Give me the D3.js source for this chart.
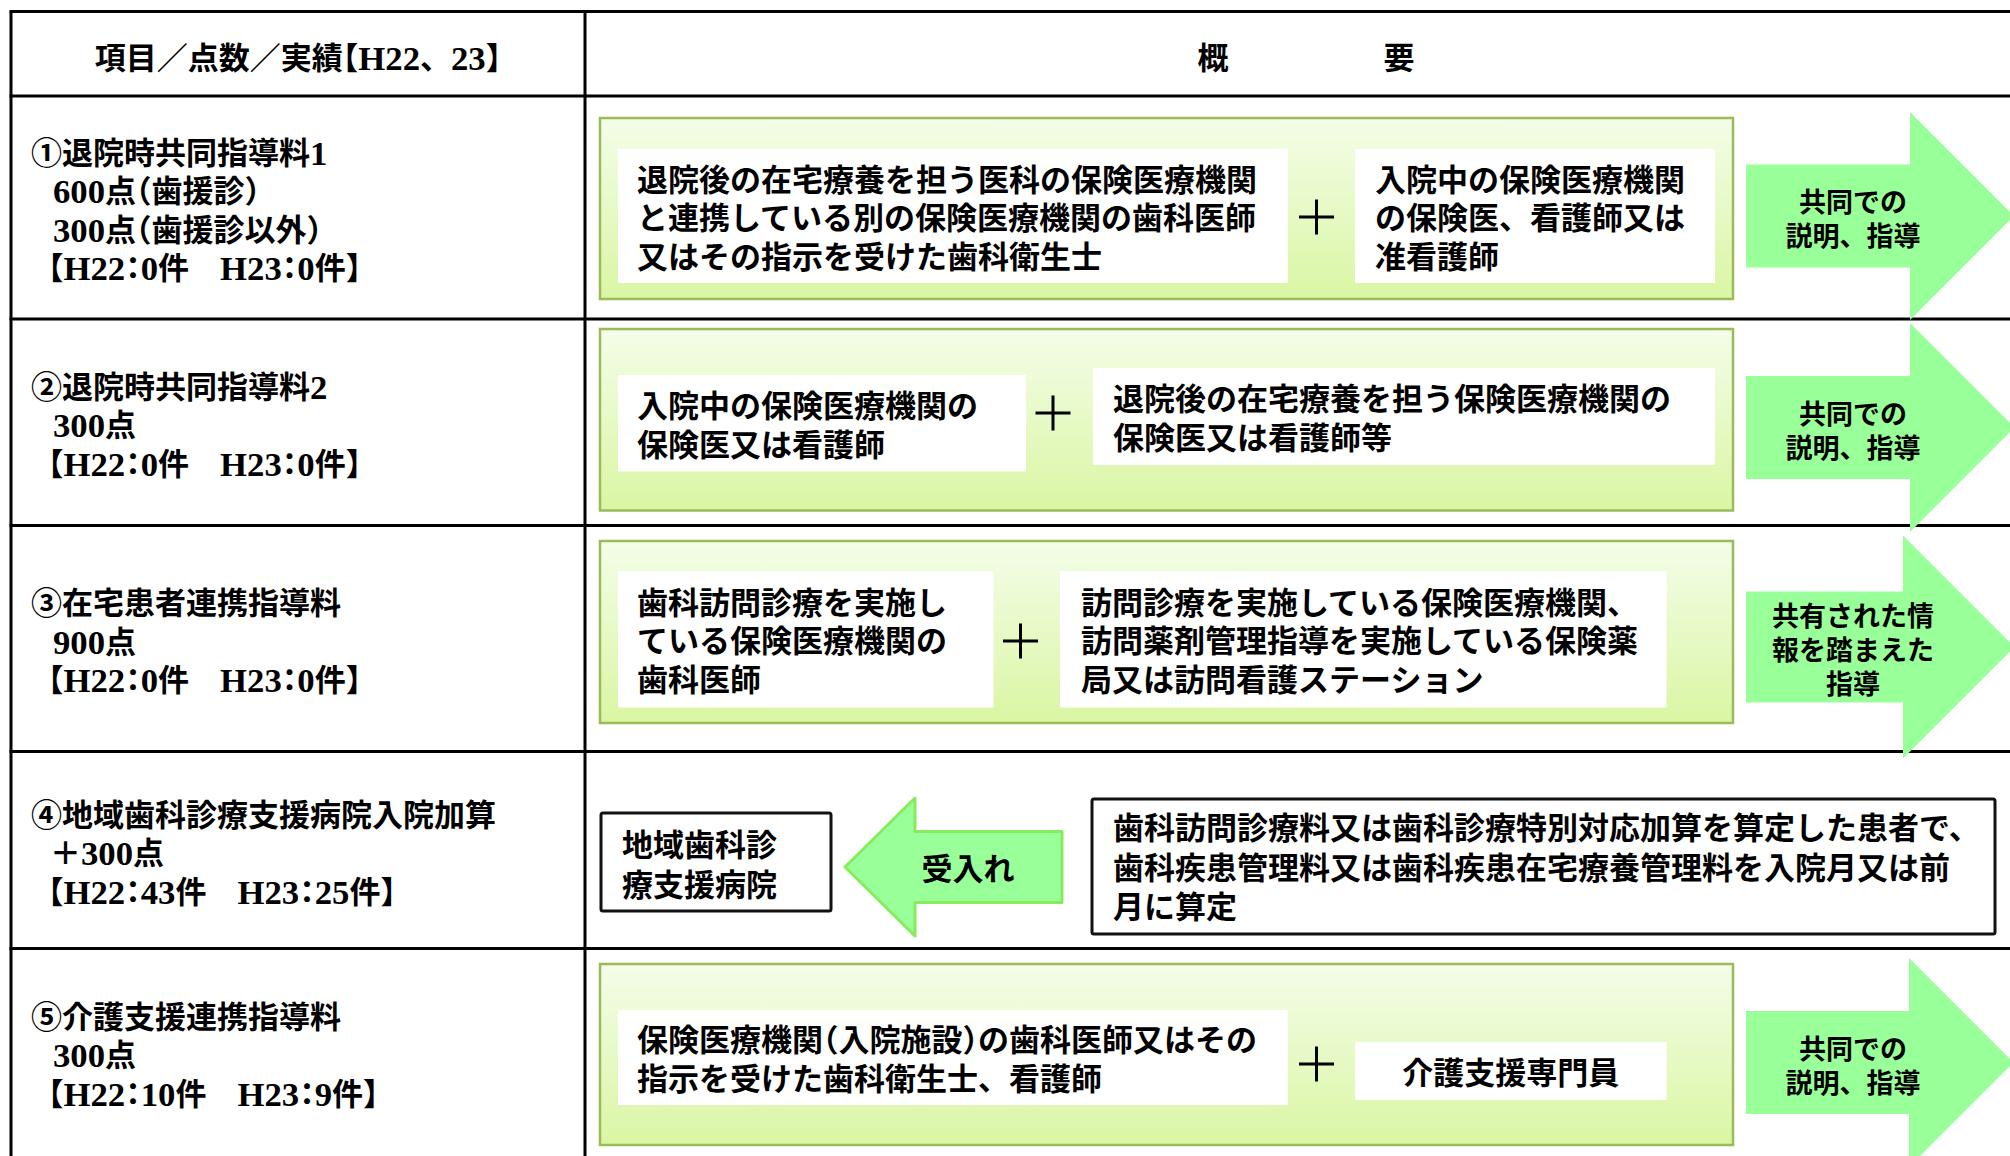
<!DOCTYPE html>
<html><head><meta charset="utf-8">
<script src="https://cdn.jsdelivr.net/npm/d3@7"></script>
<style>
html,body{margin:0;padding:0;background:#fff;}
svg text{font-family:'Liberation Serif','Noto Sans CJK JP',serif;font-weight:bold;fill:#000;}
.halt{font-feature-settings:"halt";}
</style></head>
<body><svg id="c"></svg>
<script>
// ---- content (text data) ----
const headerLabels = ["項目／点数／実績【H22、23】", "概　　　　　要"];
const itemLines = [
  ["①退院時共同指導料1", "600点（歯援診）", "300点（歯援診以外）", "【H22：0件　H23：0件】"],
  ["②退院時共同指導料2", "300点", "【H22：0件　H23：0件】"],
  ["③在宅患者連携指導料", "900点", "【H22：0件　H23：0件】"],
  ["④地域歯科診療支援病院入院加算", "＋300点", "【H22：43件　H23：25件】"],
  ["⑤介護支援連携指導料", "300点", "【H22：10件　H23：9件】"]
];
const partyA = [
  ["退院後の在宅療養を担う医科の保険医療機関", "と連携している別の保険医療機関の歯科医師", "又はその指示を受けた歯科衛生士"],
  ["入院中の保険医療機関の", "保険医又は看護師"],
  ["歯科訪問診療を実施し", "ている保険医療機関の", "歯科医師"],
  null,
  ["保険医療機関（入院施設）の歯科医師又はその", "指示を受けた歯科衛生士、看護師"]
];
const partyB = [
  ["入院中の保険医療機関", "の保険医、看護師又は", "准看護師"],
  ["退院後の在宅療養を担う保険医療機関の", "保険医又は看護師等"],
  ["訪問診療を実施している保険医療機関、", "訪問薬剤管理指導を実施している保険薬", "局又は訪問看護ステーション"],
  null,
  ["介護支援専門員"]
];
const outcomes = [
  ["共同での", "説明、指導"],
  ["共同での", "説明、指導"],
  ["共有された情", "報を踏まえた", "指導"],
  null,
  ["共同での", "説明、指導"]
];
const hospitalLabel = ["地域歯科診", "療支援病院"];
const acceptLabel = ["受入れ"];
const conditionLines = ["歯科訪問診療料又は歯科診療特別対応加算を算定した患者で、", "歯科疾患管理料又は歯科疾患在宅療養管理料を入院月又は前", "月に算定"];

// ---- layout (geometry, separate from content) ----
const W = 2010, H = 1156;
const rowEdges = [11.5, 96, 319, 525.5, 751.5, 948.5, 1156];
const tableLeft = 11, colDiv = 585;
const greenBoxes = [[600,118,1733,299],[600,329,1733,510.5],[600,541,1733,723],null,[600,964,1733,1145]];
const boxA = [[618,149,1288,283],[618,375,1026,471.5],[618,571,993.5,707.5],null,[618,1010,1288,1105]];
const boxB = [[1355,149,1715,283],[1093,368,1715,465],[1060,571,1666.5,707.5],null,[1355,1042,1666.5,1100]];
const textAx = [637,637,637,null,637];
const textBx = [1375,1113,1081,null,null]; // null => centered
const plusPos = [[1316.5,217],[1053,413],[1020.5,641],null,[1316.5,1064]];
const arrows = [ // [x0, xb, cy, bodyHalf, headHalf]
  [1746,1910,216,51.5,104],[1746,1910,427.5,51.5,104.5],[1746,1903,647,55.5,111.5],null,[1746,1909,1062.5,51.5,104.5]
];
const FS = 31, LH = 38.5;

const svg = d3.select("#c").attr("width",W).attr("height",H).attr("viewBox",`0 0 ${W} ${H}`);
const defs = svg.append("defs");
const grad = defs.append("linearGradient").attr("id","gg").attr("x1",0).attr("y1",0).attr("x2",0).attr("y2",1);
grad.append("stop").attr("offset","0%").attr("stop-color","#f4fde9");
grad.append("stop").attr("offset","100%").attr("stop-color","#daf6a3");

function addLines(g, lines, x, cy, lh, fs, anchor){
  const n = lines.length;
  lines.forEach((ln,i)=>{
    const t = g.append("text").attr("x",x).attr("y",cy + (i-(n-1)/2)*lh)
      .attr("dominant-baseline","central").attr("text-anchor",anchor||"start")
      .style("font-size",fs+"px");
    ln.split(/([（）【】：]|[A-Za-z0-9]+)/).filter(s=>s.length).forEach(seg=>{
      const ts = t.append("tspan").text(seg);
      if(/^[（）【】：]$/.test(seg)) ts.attr("class","halt");
      if(/^[A-Za-z0-9]+$/.test(seg)) ts.style("font-size",(fs*1.12)+"px");
    });
  });
}
function rect(g, b){ return g.append("rect").attr("x",b[0]).attr("y",b[1]).attr("width",b[2]-b[0]).attr("height",b[3]-b[1]); }

// table lines
const tbl = svg.append("g").attr("stroke","#000").attr("stroke-width",3);
tbl.selectAll("line.h").data(rowEdges.slice(0,6)).join("line").attr("class","h")
  .attr("x1",tableLeft-1.5).attr("x2",W).attr("y1",d=>d).attr("y2",d=>d);
tbl.append("line").attr("x1",tableLeft).attr("x2",tableLeft).attr("y1",rowEdges[0]).attr("y2",H);
tbl.append("line").attr("x1",colDiv).attr("x2",colDiv).attr("y1",rowEdges[0]).attr("y2",H);

// header
const hg = svg.append("g");
addLines(hg,[headerLabels[0]],298,58,LH,FS,"middle");
addLines(hg,[headerLabels[1]],1306,58,LH,FS,"middle");

// left column items
const lg = svg.append("g");
itemLines.forEach((lines,r)=>{
  const cy = (rowEdges[r+1]+rowEdges[r+2])/2 + 3;
  const n = lines.length;
  lines.forEach((ln,i)=>{
    let x = i===0 ? 31 : 53;
    if(ln[0]==="【") x -= 5;
    if(ln[0]==="＋") x -= 3;
    addLines(lg,[ln],x,cy+(i-(n-1)/2)*LH,LH,FS);
  });
});

// right column diagrams
const dg = svg.append("g");
[0,1,2,4].forEach(r=>{
  rect(dg,greenBoxes[r]).attr("fill","url(#gg)").attr("stroke","#9bbb59").attr("stroke-width",2.5);
  rect(dg,boxA[r]).attr("fill","#fff");
  rect(dg,boxB[r]).attr("fill","#fff");
  const ca = (boxA[r][1]+boxA[r][3])/2 + 2;
  addLines(dg,partyA[r],textAx[r],ca,LH,FS);
  const cb = (boxB[r][1]+boxB[r][3])/2 + 2;
  if(textBx[r]===null) addLines(dg,partyB[r],(boxB[r][0]+boxB[r][2])/2,cb,LH,FS,"middle");
  else addLines(dg,partyB[r],textBx[r],cb,LH,FS);
  const [px,py] = plusPos[r], s = 17.5;
  dg.append("path").attr("d",`M${px-s},${py}H${px+s}M${px},${py-s}V${py+s}`).attr("stroke","#000").attr("stroke-width",3).attr("fill","none");
  const [x0,xb,cy,bh,hh] = arrows[r];
  const p = d3.path();
  p.moveTo(x0,cy-bh); p.lineTo(xb,cy-bh); p.lineTo(xb,cy-hh); p.lineTo(xb+hh,cy);
  p.lineTo(xb,cy+hh); p.lineTo(xb,cy+bh); p.lineTo(x0,cy+bh); p.closePath();
  dg.append("path").attr("d",p.toString()).attr("fill","#99ff99");
  addLines(dg,outcomes[r],1853,cy+4,34,27,"middle");
});

// row 4 diagram
const hb = [601,813,831,911];
rect(dg,hb).attr("fill","#fff").attr("stroke","#111").attr("stroke-width",3).attr("rx",2);
addLines(dg,hospitalLabel,622,(hb[1]+hb[3])/2+3,40,FS);
const la = {tip:845, cy:867, xb:915, hh:69, bh:35.5, x1:1062};
const lp = d3.path();
lp.moveTo(la.tip,la.cy); lp.lineTo(la.xb,la.cy-la.hh); lp.lineTo(la.xb,la.cy-la.bh); lp.lineTo(la.x1,la.cy-la.bh);
lp.lineTo(la.x1,la.cy+la.bh); lp.lineTo(la.xb,la.cy+la.bh); lp.lineTo(la.xb,la.cy+la.hh); lp.closePath();
dg.append("path").attr("d",lp.toString()).attr("fill","#99ff99").attr("stroke","#86ec5c").attr("stroke-width",3).attr("stroke-linejoin","round");
addLines(dg,acceptLabel,968,869,LH,FS,"middle");
const cb4 = [1092,799,1995,934];
rect(dg,cb4).attr("fill","#fff").attr("stroke","#111").attr("stroke-width",3).attr("rx",2);
addLines(dg,conditionLines,1113,(cb4[1]+cb4[3])/2+1,39.5,FS);
</script></body></html>
